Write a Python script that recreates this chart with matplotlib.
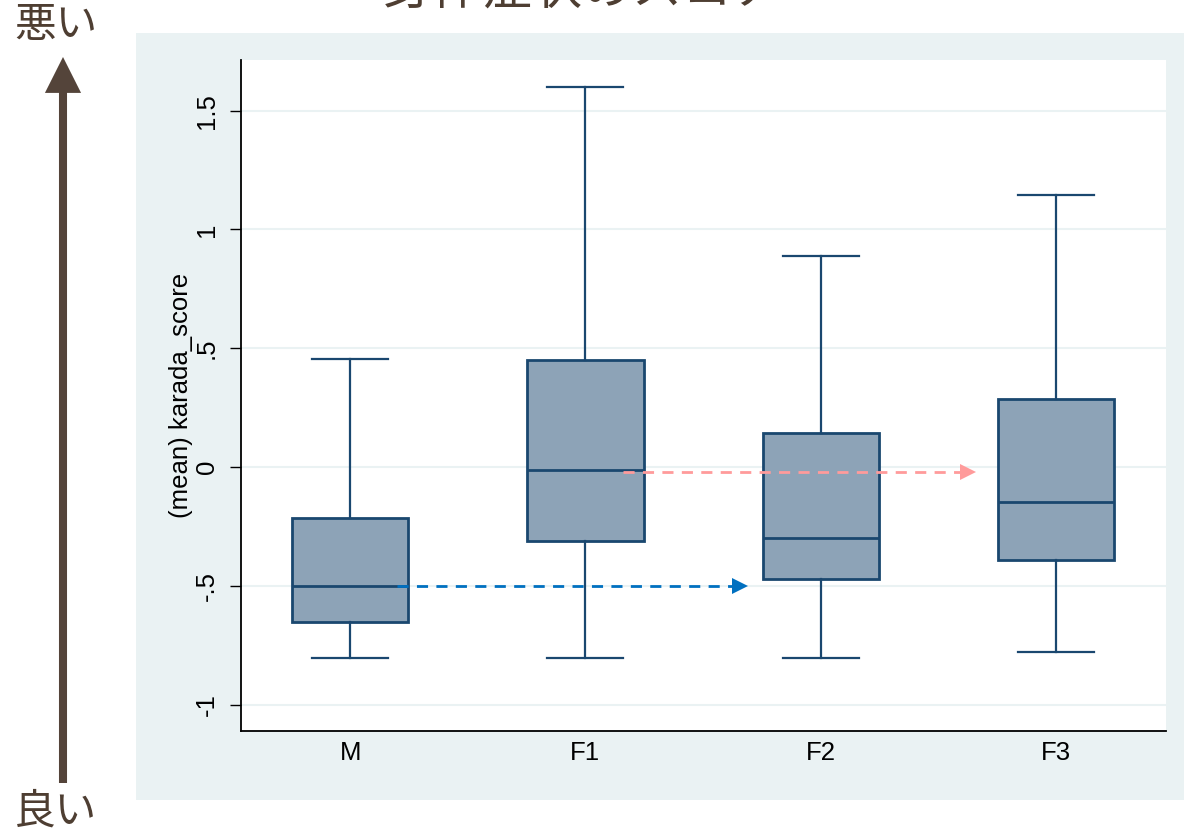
import matplotlib
matplotlib.use("Agg")
import matplotlib.pyplot as plt
from matplotlib.patches import Rectangle

# ---- data ----
groups = ["M", "F1", "F2", "F3"]
whis_hi = [0.454, 1.599, 0.888, 1.145]
q3 = [-0.215, 0.450, 0.143, 0.286]
median = [-0.500, -0.013, -0.299, -0.147]
q1 = [-0.652, -0.311, -0.471, -0.391]
whis_lo = [-0.804, -0.804, -0.804, -0.779]

ytick_vals = [-1, -0.5, 0, 0.5, 1, 1.5]
ytick_labels = ["-1", "-.5", "0", ".5", "1", "1.5"]

# comparison arrows (start x, end x, y) in data units
blue_arrow = (1.20, 2.69, -0.500)
pink_arrow = (2.16, 3.66, -0.021)

title = "身体症状のスコア"
ylabel = "(mean) karada_score"

# ---- styling ----
W, H = 1184, 833
fig = plt.figure(figsize=(W / 100, H / 100), dpi=100)
plt.rcParams['font.family'] = ['Liberation Sans', 'DejaVu Sans']
jp_font = ['Noto Sans CJK JP', 'DejaVu Sans']
brown = '#4E3E32'
fs = 18.5

# background graph region
fig.patches.append(Rectangle((136 / W, 1 - 800 / H), 1 - 136 / W, (800 - 33) / H,
                             transform=fig.transFigure, facecolor='#EAF2F3',
                             edgecolor='none', zorder=-5))

ax = fig.add_axes([241 / W, 1 - 731 / H, (1166 - 241) / W, (731 - 60) / H])
ax.set_zorder(2)
ax.set_facecolor('white')

positions = list(range(1, len(groups) + 1))
stats = []
for i, g in enumerate(groups):
    stats.append(dict(label=g, med=median[i], q1=q1[i], q3=q3[i],
                      whislo=whis_lo[i], whishi=whis_hi[i], fliers=[]))

navy = '#1A476F'
ax.bxp(stats, positions=positions, widths=0.494, capwidths=0.323,
       patch_artist=True, showfliers=False,
       boxprops=dict(facecolor='#8DA3B7', edgecolor=navy, linewidth=2.0),
       medianprops=dict(color=navy, linewidth=2.0),
       whiskerprops=dict(color=navy, linewidth=1.6),
       capprops=dict(color=navy, linewidth=1.6))

# dashed comparison arrows: dashed shaft + solid triangular head
head = 0.068  # head length in x data units
for (x0, x1, y), col in [(blue_arrow, '#0070C0'), (pink_arrow, '#FF9B9B')]:
    ax.plot([x0, x1 - head], [y, y], color=col, lw=2.0,
            linestyle=(0, (4, 3)), zorder=5, solid_capstyle='butt',
            dash_capstyle='butt')
    ax.plot([x1 - head / 2], [y], marker='>', ms=11.5, color=col,
            linestyle='none', markeredgewidth=0, zorder=5)

ax.set_xlim(0.536, 4.468)
ax.set_ylim(-1.111, 1.713)
ax.set_xticks(positions)
ax.set_xticklabels(groups, fontsize=fs)
ax.set_yticks(ytick_vals)
ax.set_yticklabels(ytick_labels, fontsize=fs)
for t in ax.get_yticklabels():
    t.set_rotation(90)
    t.set_va('center')
ax.tick_params(axis='x', length=0, pad=7)
ax.tick_params(axis='y', length=8, width=1.0, pad=8)
ax.grid(axis='y', color='#EAF2F3', linewidth=1.5)
ax.set_axisbelow(True)
for s in ['top', 'right']:
    ax.spines[s].set_visible(False)
for s in ['left', 'bottom']:
    ax.spines[s].set_linewidth(1.3)
    ax.spines[s].set_color('black')
ax.set_ylabel(ylabel, fontsize=fs, labelpad=1)

# title (partially cut off at top, as in the reference)
fig.text(583 / W, 1 + 10 / H, title, fontsize=36, family=jp_font,
         color=brown, ha='center', va='center')

# big "worse / better" arrow at left
ax.annotate('', xy=(63 / W, 1 - 57 / H), xytext=(63 / W, 1 - 783 / H),
            xycoords='figure fraction', textcoords='figure fraction',
            arrowprops=dict(arrowstyle='-|>,head_length=1.65,head_width=0.83',
                            mutation_scale=10, color='#54443A', lw=5.8,
                            shrinkA=0, shrinkB=0, joinstyle='miter',
                            capstyle='butt'),
            annotation_clip=False)
fig.text(56 / W, 1 - 26 / H, "悪い", fontsize=30, family=jp_font,
         color=brown, ha='center', va='center')
fig.text(56 / W, 1 - 812 / H, "良い", fontsize=30, family=jp_font,
         color=brown, ha='center', va='center')

fig.savefig("out.png", dpi=100)
